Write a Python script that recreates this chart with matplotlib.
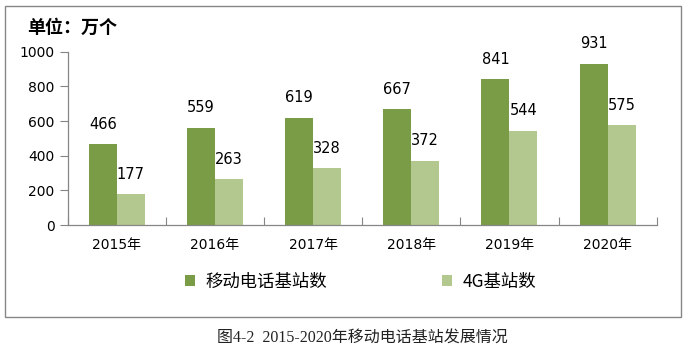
import matplotlib
matplotlib.use("Agg")
import matplotlib.pyplot as plt
import matplotlib.patches as mpatches
import numpy as np

plt.rcParams['font.family'] = ['Noto Sans CJK SC', 'DejaVu Sans']
NUMFONT = ['DejaVu Sans', 'Noto Sans CJK SC']

years = ["2015年", "2016年", "2017年", "2018年", "2019年", "2020年"]
mobile = [466, 559, 619, 667, 841, 931]
g4 = [177, 263, 328, 372, 544, 575]
series_names = ["移动电话基站数", "4G基站数"]
yticks = [0, 200, 400, 600, 800, 1000]

c_dark = "#7A9C47"
c_light = "#B2C88F"
grey = "#868686"

fig = plt.figure(figsize=(6.9, 3.56), dpi=100)
ax = fig.add_axes([67.7/690, 1-225/356, (656.7-67.7)/690, (225-51.7)/356])

x = np.arange(len(years))
w = 0.285
b1 = ax.bar(x - w/2, mobile, w, color=c_dark, label=series_names[0])
b2 = ax.bar(x + w/2, g4, w, color=c_light, label=series_names[1])

for bars, vals in ((b1, mobile), (b2, g4)):
    for r, v in zip(bars, vals):
        ax.annotate(str(v), (r.get_x() + r.get_width()/2, v), xytext=(0, 14.5),
                    textcoords='offset points', ha='center', va='center',
                    fontsize=10.5, family=NUMFONT, color='black')

ax.set_xlim(-0.5, len(years) - 0.5)
ax.set_ylim(0, 1000)
ax.set_yticks(yticks)
ax.set_yticklabels([str(t) for t in yticks], fontsize=10, family=NUMFONT)
ax.set_xticks(x)
ax.set_xticklabels(years, fontsize=10, family=NUMFONT)
ax.set_xticks(np.arange(len(years) + 1) - 0.5, minor=True)
ax.tick_params(axis='x', which='major', length=0, pad=9)
ax.tick_params(axis='x', which='minor', direction='in', length=5.5, color=grey, width=0.8)
ax.tick_params(axis='y', direction='out', length=5.5, color=grey, width=0.8, pad=4)
for s in ('top', 'right'):
    ax.spines[s].set_visible(False)
for s in ('left', 'bottom'):
    ax.spines[s].set_color(grey)
    ax.spines[s].set_linewidth(0.9)

fig.text(27/690, 1-27/356, "单位：万个", fontsize=13, fontweight='bold', ha='left', va='center')

leg = fig.legend(handles=[b1, b2], labels=series_names, ncol=2, loc='center left',
                 bbox_to_anchor=(185/690, 1-282/356), frameon=False, fontsize=12.5,
                 handlelength=0.6, handleheight=0.6, handletextpad=0.6,
                 columnspacing=6.6, borderpad=0, borderaxespad=0)

fig.patches.append(mpatches.Rectangle((5/690, 1-317/356), (681-5)/690, (317-5.5)/356,
                                      transform=fig.transFigure, fill=False,
                                      edgecolor=grey, linewidth=1.0))

fig.text(217/690, 1-338/356, "图4-2  2015-2020年移动电话基站发展情况", fontsize=11.5,
         family=['Liberation Serif', 'Noto Sans CJK SC'], ha='left', va='center', color='#222222')

fig.savefig("out.png", dpi=100)
